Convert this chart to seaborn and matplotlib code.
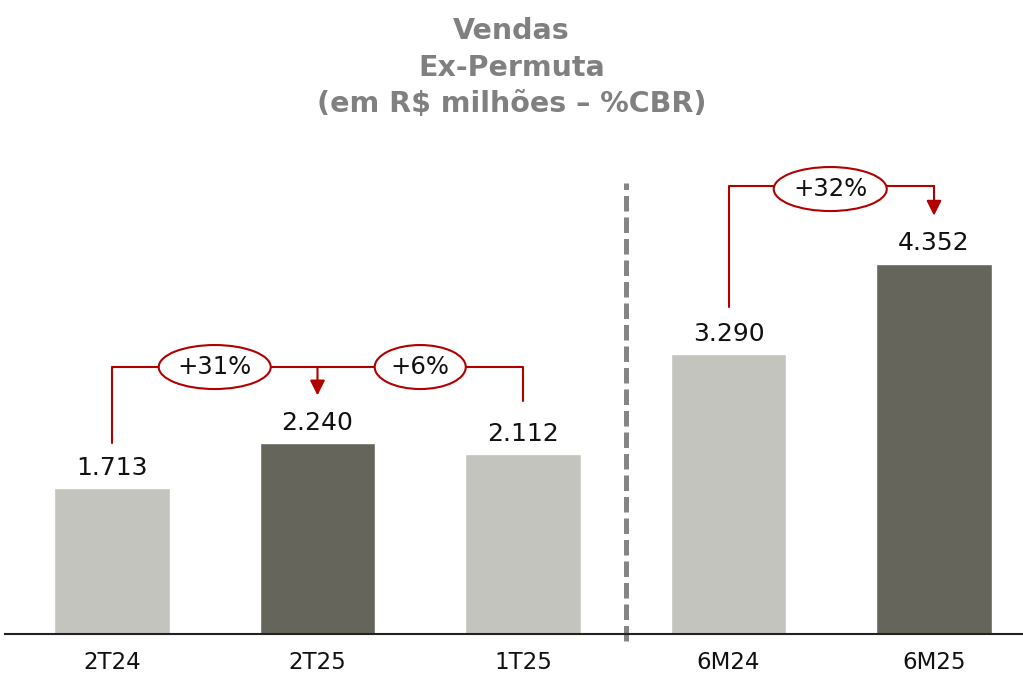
import numpy as np
import pandas as pd
import seaborn as sns
import matplotlib.pyplot as plt
from matplotlib.patches import Ellipse

# Data
categories = ['2T24', '2T25', '1T25', '6M24', '6M25']
values = [1713, 2240, 2112, 3290, 4352]
value_labels = ['1.713', '2.240', '2.112', '3.290', '4.352']
growth_labels = ['+31%', '+6%', '+32%']

light = '#C3C4BE'
dark = '#65655B'
red = '#B00000'
palette = [light, dark, light, light, dark]

sns.set_style('white')
plt.rcParams['font.family'] = ['DejaVu Sans']

df = pd.DataFrame({'periodo': categories, 'vendas': values})

fig = plt.figure(figsize=(10.23, 6.75), dpi=100)
ax = fig.add_axes([0.005, 0.0607, 0.995, 0.9393])

sns.barplot(data=df, x='periodo', y='vendas', hue='periodo', palette=palette,
            width=0.56, legend=False, ax=ax, saturation=1)

ax.set_xlim(-0.52, 4.433)
ax.set_ylim(0, 7450)
ax.set_xlabel('')
ax.set_ylabel('')
ax.set_yticks([])
for s in ['top', 'right', 'left']:
    ax.spines[s].set_visible(False)
ax.spines['bottom'].set_color('#222222')
ax.spines['bottom'].set_linewidth(1.5)
ax.tick_params(axis='x', length=0, labelsize=16.5, pad=12, labelcolor='#111111')

# value labels
for i, (v, lab) in enumerate(zip(values, value_labels)):
    ax.text(i, v + 100, lab, ha='center', va='bottom', fontsize=18, color='#111111')

# separator
ax.plot([2.5, 2.5], [-80, 5300], ls=(0, (3.1, 1.2)), color='#858585', lw=3.6, clip_on=False)

px = 11.75  # data units per pixel vertically


def ellipse(xc, yc, w, h, text):
    e = Ellipse((xc, yc), w, h, facecolor='white', edgecolor=red, lw=1.5, zorder=5)
    ax.add_patch(e)
    ax.text(xc, yc, text, ha='center', va='center', fontsize=17.5, color='#111111', zorder=6)


arrow = dict(arrowstyle='-|>,head_length=0.9,head_width=0.45', color=red, lw=1.5, shrinkA=0, shrinkB=0)

# quarterly bracket
y1 = (634 - 367) * px
ax.plot([0, 0, 2, 2], [values[0] + 45 * px, y1, y1, values[2] + 53 * px], color=red, lw=1.5, zorder=3)
ax.annotate('', xy=(1, values[1] + 48 * px), xytext=(1, y1), arrowprops=arrow)
ellipse(0.50, y1, 0.545, 44 * px, growth_labels[0])
ellipse(1.50, y1, 0.443, 44 * px, growth_labels[1])

# half-year bracket
y2 = (634 - 186) * px
ax.plot([3, 3, 4], [values[3] + 47 * px, y2, y2], color=red, lw=1.5, zorder=3)
ax.annotate('', xy=(4, values[4] + 48 * px), xytext=(4, y2), arrowprops=arrow)
ellipse(3.495, y2 - 3 * px, 0.55, 44 * px, growth_labels[2])

fig.text(0.5, 0.975, 'Vendas\nEx-Permuta\n(em R$ milhões – %CBR)', ha='center', va='top',
         fontsize=20.5, fontweight='bold', color='#808080', linespacing=1.4)

fig.savefig('out.png', dpi=100)
